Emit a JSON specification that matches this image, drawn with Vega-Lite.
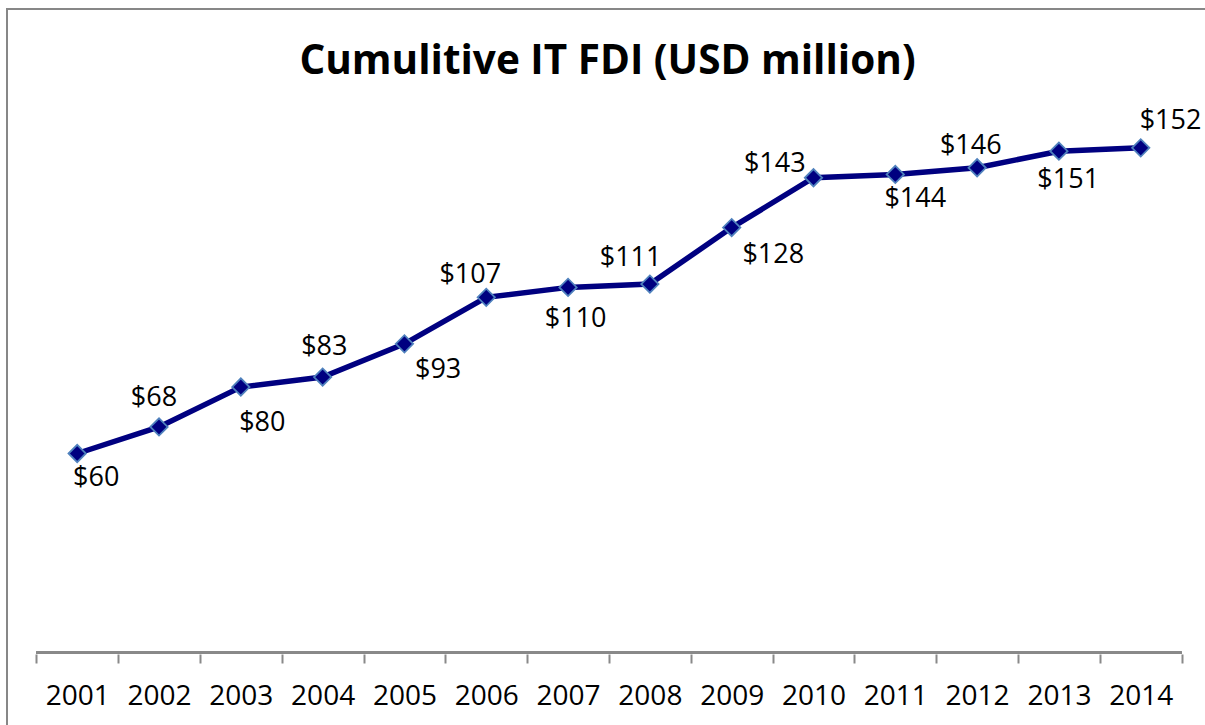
{
  "$schema": "https://vega.github.io/schema/vega-lite/v6.json",
  "width": 1199,
  "height": 717,
  "autosize": {"type": "none"},
  "padding": {"left": 7, "top": 9, "right": 0, "bottom": 0},
  "background": "white",
  "config": {
    "view": {"stroke": "#878787", "strokeWidth": 2},
    "font": "Open Sans"
  },
  "title": {
    "text": "Cumulitive IT FDI (USD million)",
    "font": "Open Sans",
    "fontSize": 40.5,
    "fontWeight": "bold",
    "color": "black",
    "anchor": "middle",
    "baseline": "alphabetic",
    "offset": 0,
    "dy": 105,
    "dx": 1
  },
  "data": {
    "values": [
      {"year": 2001, "value": 60},
      {"year": 2002, "value": 68},
      {"year": 2003, "value": 80},
      {"year": 2004, "value": 83},
      {"year": 2005, "value": 93},
      {"year": 2006, "value": 107},
      {"year": 2007, "value": 110},
      {"year": 2008, "value": 111},
      {"year": 2009, "value": 128},
      {"year": 2010, "value": 143},
      {"year": 2011, "value": 144},
      {"year": 2012, "value": 146},
      {"year": 2013, "value": 151},
      {"year": 2014, "value": 152}
    ]
  },
  "encoding": {
    "x": {
      "field": "year",
      "type": "quantitative",
      "scale": {"domain": [2000.1419, 2014.7978], "nice": false, "zero": false},
      "axis": {
        "title": null,
        "orient": "bottom",
        "offset": -72,
        "domain": false,
        "grid": false,
        "values": [2000.5, 2001.5, 2002.5, 2003.5, 2004.5, 2005.5, 2006.5, 2007.5, 2008.5, 2009.5, 2010.5, 2011.5, 2012.5, 2013.5, 2014.5],
        "ticks": true,
        "tickSize": 9,
        "tickWidth": 2,
        "tickColor": "#898989",
        "labelExpr": "datum.value < 2014 ? '' + (datum.value + 0.5) : ''",
        "labelOffset": 40.9,
        "labelPadding": 41,
        "labelBaseline": "alphabetic",
        "labelFont": "Open Sans",
        "labelFontSize": 28,
        "labelColor": "black",
        "labelFlush": false,
        "labelOverlap": false,
        "labelBound": false
      }
    },
    "y": {
      "field": "value",
      "type": "quantitative",
      "scale": {"domain": [-22.03, 193.8], "nice": false, "zero": false},
      "axis": null
    }
  },
  "layer": [
    {
      "mark": {"type": "rule", "stroke": "#898989", "strokeWidth": 2},
      "encoding": {
        "x": {"datum": 2000.5, "type": "quantitative"},
        "x2": {"datum": 2014.5},
        "y": {"datum": 0, "type": "quantitative"}
      }
    },
    {
      "mark": {"type": "line", "stroke": "#000080", "strokeWidth": 5.5}
    },
    {
      "mark": {"type": "point", "shape": "diamond", "size": 300, "filled": true, "fill": "#000080", "stroke": "#4f81bd", "strokeWidth": 1.8, "opacity": 1}
    },
    {
      "encoding": {
        "text": {"field": "value", "type": "quantitative", "format": "$d"}
      },
      "layer": [
        {"transform": [{"filter": "datum.year == 2001"}], "mark": {"type": "text", "font": "Open Sans", "fontSize": 27, "color": "black", "baseline": "middle", "dx": 19, "dy": 25}},
        {"transform": [{"filter": "datum.year == 2002"}], "mark": {"type": "text", "font": "Open Sans", "fontSize": 27, "color": "black", "baseline": "middle", "dx": -5, "dy": -29}},
        {"transform": [{"filter": "datum.year == 2003"}], "mark": {"type": "text", "font": "Open Sans", "fontSize": 27, "color": "black", "baseline": "middle", "dx": 21.5, "dy": 35.5}},
        {"transform": [{"filter": "datum.year == 2004"}], "mark": {"type": "text", "font": "Open Sans", "fontSize": 27, "color": "black", "baseline": "middle", "dx": 1.7, "dy": -30}},
        {"transform": [{"filter": "datum.year == 2005"}], "mark": {"type": "text", "font": "Open Sans", "fontSize": 27, "color": "black", "baseline": "middle", "dx": 33.7, "dy": 26.5}},
        {"transform": [{"filter": "datum.year == 2006"}], "mark": {"type": "text", "font": "Open Sans", "fontSize": 27, "color": "black", "baseline": "middle", "dx": -16, "dy": -22}},
        {"transform": [{"filter": "datum.year == 2007"}], "mark": {"type": "text", "font": "Open Sans", "fontSize": 27, "color": "black", "baseline": "middle", "dx": 7.6, "dy": 32}},
        {"transform": [{"filter": "datum.year == 2008"}], "mark": {"type": "text", "font": "Open Sans", "fontSize": 27, "color": "black", "baseline": "middle", "dx": -19.3, "dy": -26}},
        {"transform": [{"filter": "datum.year == 2009"}], "mark": {"type": "text", "font": "Open Sans", "fontSize": 27, "color": "black", "baseline": "middle", "dx": 41.6, "dy": 27.5}},
        {"transform": [{"filter": "datum.year == 2010"}], "mark": {"type": "text", "font": "Open Sans", "fontSize": 27, "color": "black", "baseline": "middle", "dx": -38.7, "dy": -13.8}},
        {"transform": [{"filter": "datum.year == 2011"}], "mark": {"type": "text", "font": "Open Sans", "fontSize": 27, "color": "black", "baseline": "middle", "dx": 20, "dy": 24.5}},
        {"transform": [{"filter": "datum.year == 2012"}], "mark": {"type": "text", "font": "Open Sans", "fontSize": 27, "color": "black", "baseline": "middle", "dx": -6.3, "dy": -21.3}},
        {"transform": [{"filter": "datum.year == 2013"}], "mark": {"type": "text", "font": "Open Sans", "fontSize": 27, "color": "black", "baseline": "middle", "dx": 9.3, "dy": 28.5}},
        {"transform": [{"filter": "datum.year == 2014"}], "mark": {"type": "text", "font": "Open Sans", "fontSize": 27, "color": "black", "baseline": "middle", "dx": 29.8, "dy": -26.4}}
      ]
    }
  ]
}
